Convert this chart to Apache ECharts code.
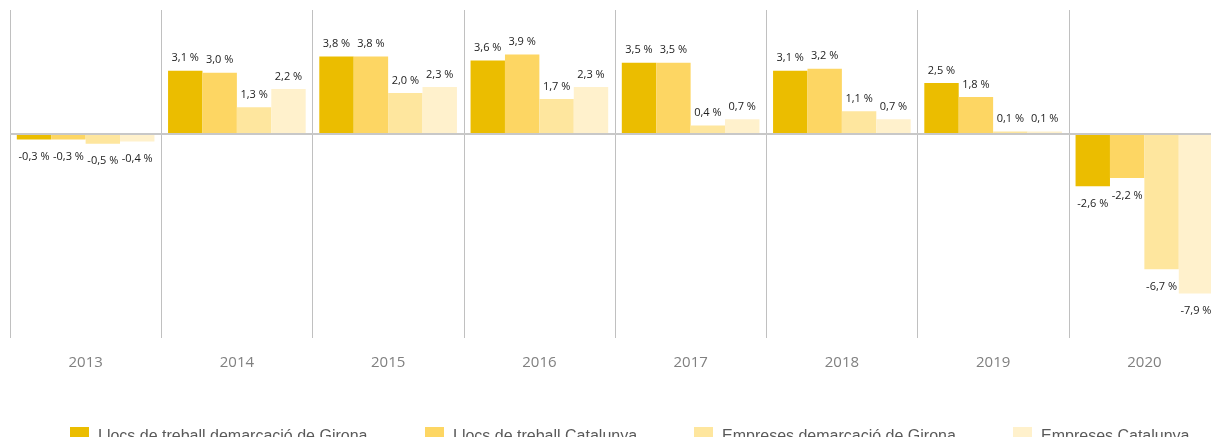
<!DOCTYPE html>
<html>
<head>
<meta charset="utf-8">
<script src="https://cdn.jsdelivr.net/npm/echarts@6/dist/echarts.min.js"></script>
<style>
  html, body { margin: 0; padding: 0; background: #fff; overflow: hidden; }
  /* the last column is cut off at the right edge in the original */
  #chart { width: 1221px; height: 437px; }
</style>
</head>
<body>
<div id="chart"></div>
<script>
// dades
const years = ["2013", "2014", "2015", "2016", "2017", "2018", "2019", "2020"];
const seriesNames = [
  "Llocs de treball demarcació de Girona",
  "Llocs de treball Catalunya",
  "Empreses demarcació de Girona",
  "Empreses Catalunya"
];
const llocsGirona = [-0.3, 3.1, 3.8, 3.6, 3.5, 3.1, 2.5, -2.6];
const llocsCatalunya = [-0.3, 3.0, 3.8, 3.9, 3.5, 3.2, 1.8, -2.2];
const empresesGirona = [-0.5, 1.3, 2.0, 1.7, 0.4, 1.1, 0.1, -6.7];
const empresesCatalunya = [-0.4, 2.2, 2.3, 2.3, 0.7, 0.7, 0.1, -7.9];

const colors = ["#EBBD00", "#FDD663", "#FEE69E", "#FFF1CC"];
const values = [llocsGirona, llocsCatalunya, empresesGirona, empresesCatalunya];

const chart = echarts.init(document.getElementById("chart"));

const fmt = (v) => v.toFixed(1).replace(".", ",") + " %";

const series = values.map((data, i) => ({
  name: seriesNames[i],
  type: "bar",
  barGap: "0%",
  barCategoryGap: "9%",
  itemStyle: { color: colors[i] },
  data: data.map((v) => ({
    value: v,
    label: v < 0 ? { position: "bottom", distance: 12 } : { position: "top", distance: 7 }
  })),
  label: {
    show: true,
    color: "#222",
    fontSize: 11,
    fontFamily: "Open Sans",
    formatter: (p) => fmt(p.value)
  },
  markLine: i === 0 ? {
    silent: true,
    symbol: "none",
    label: { show: false },
    lineStyle: { color: "#c8c8c8", type: "solid", width: 2 },
    data: [{ yAxis: 0 }]
  } : undefined
}));

// una llegenda per element per situar-les com a l'original
const legendLeft = [70, 425, 694, 1013];
const legends = seriesNames.map((name, i) => ({
  left: legendLeft[i],
  top: 427,
  padding: 0,
  itemWidth: 19,
  itemHeight: 19,
  icon: "rect",
  textStyle: {
    color: "#595959",
    fontSize: 16,
    fontFamily: "Liberation Sans",
    padding: [0, 0, 0, 4]
  },
  data: [name]
}));

chart.setOption({
  animation: false,
  color: colors,
  grid: { left: 10, right: 1, top: 10, bottom: 99 },
  legend: legends,
  xAxis: {
    type: "category",
    data: years,
    axisLine: { show: false, onZero: false },
    axisTick: { show: false },
    axisLabel: { color: "#808080", fontSize: 15, fontFamily: "Open Sans", margin: 17 },
    splitLine: { show: true, interval: 0, lineStyle: { color: "#c0c0c0", width: 1 } }
  },
  yAxis: {
    type: "value",
    min: -10.1,
    max: 6.1,
    show: false,
    splitLine: { show: false }
  },
  series: series
});
</script>
</body>
</html>
